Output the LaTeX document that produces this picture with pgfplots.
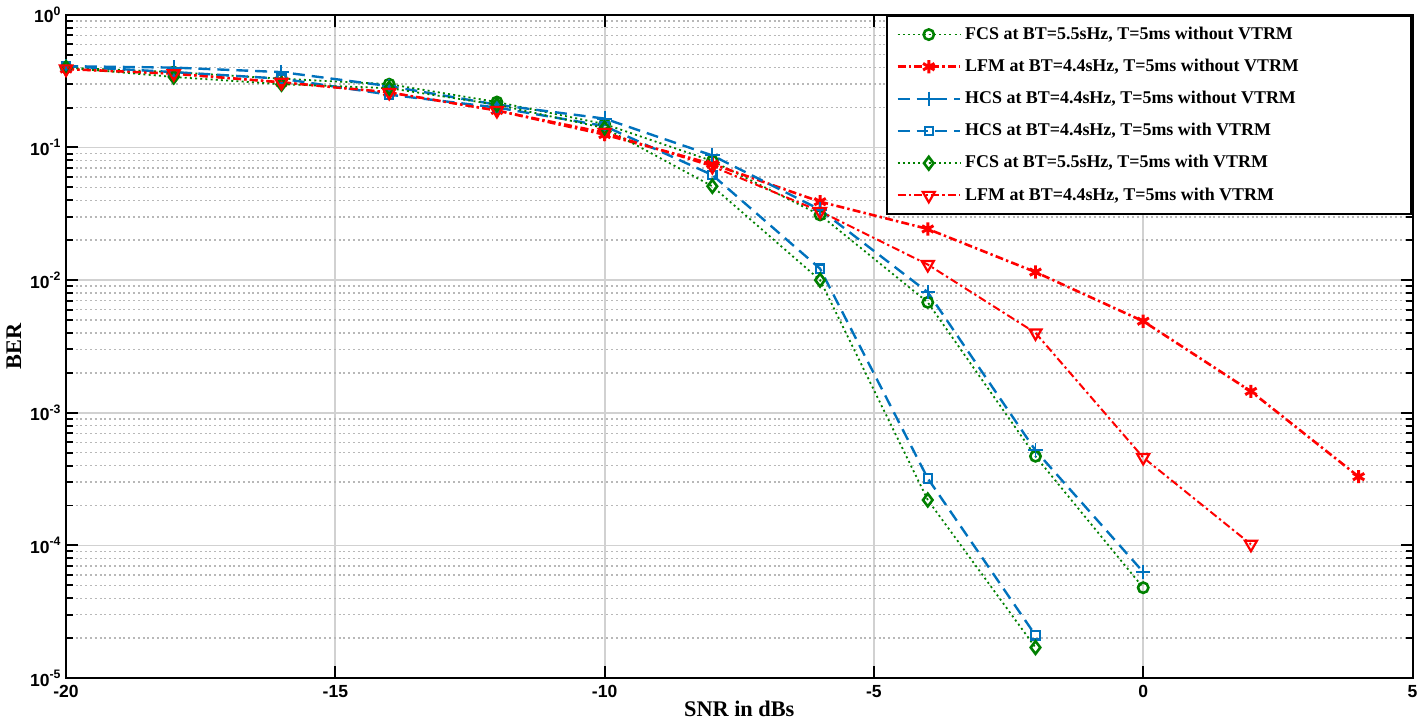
\documentclass[border=0pt]{standalone}
\usepackage{pgfplots}
\pgfplotsset{compat=1.18}
\usepackage{fontspec}
\setmainfont{Liberation Serif}
\newfontfamily\arialfont{Liberation Sans}
\definecolor{mgreen}{rgb}{0,0.5,0}
\definecolor{mblue}{rgb}{0,0.447,0.741}
\definecolor{mred}{rgb}{1,0,0}
\begin{document}
\begin{tikzpicture}
\begin{axis}[
  scale only axis, width=676pt, height=333pt,
  ymode=log, xmin=-20, xmax=5, ymin=1e-5, ymax=1,
  xtick={-20,-15,-10,-5,0,5},
  xticklabels={-20,-15,-10,-5,0,5},
  ytick={1e-5,1e-4,1e-3,1e-2,1e-1,1},
  yticklabels={10\textsuperscript{-5},10\textsuperscript{-4},10\textsuperscript{-3},10\textsuperscript{-2},10\textsuperscript{-1},10\textsuperscript{0}},
  minor ytick={2e-5,3e-5,4e-5,5e-5,6e-5,7e-5,8e-5,9e-5,2e-4,3e-4,4e-4,5e-4,6e-4,7e-4,8e-4,9e-4,2e-3,3e-3,4e-3,5e-3,6e-3,7e-3,8e-3,9e-3,2e-2,3e-2,4e-2,5e-2,6e-2,7e-2,8e-2,9e-2,2e-1,3e-1,4e-1,5e-1,6e-1,7e-1,8e-1,9e-1},
  ticklabel style={font=\arialfont\bfseries\fontsize{8.8}{10}\selectfont},
  yticklabel style={xshift=1.2pt},
  xmajorgrids, ymajorgrids, yminorgrids,
  major grid style={black!18, line width=0.9pt},
  minor grid style={black!28, dash pattern=on 1pt off 1.4pt, line width=0.7pt},
  tick align=inside,
  major tick length=6pt, minor tick length=3.5pt,
  every tick/.style={black, line width=1pt},
  axis line style={line width=1pt},
  xlabel={SNR in dBs}, ylabel={BER},
  label style={font=\bfseries\fontsize{11.2}{13}\selectfont},
  xlabel style={yshift=5pt},
  ylabel style={yshift=-2.5pt},
  legend style={at={(1,1)}, anchor=north east, draw=black, line width=1.1pt,
    font=\bfseries\fontsize{9}{10.5}\selectfont, row sep=4.4pt, inner ysep=3.5pt, inner xsep=4.5pt},
  legend cell align=left,
  legend image code/.code={\draw[mark repeat=2,mark phase=2] plot coordinates {(0cm,0cm)(0.55cm,0cm)(1.1cm,0cm)};},
]
% FCS without VTRM
\addplot[mgreen, line width=0.9pt, dash pattern=on 1pt off 1.6pt, mark=o, mark size=2.6pt, mark options={solid, line width=1.3pt}]
coordinates {(-20,0.40)(-18,0.37)(-16,0.33)(-14,0.30)(-12,0.22)(-10,0.15)(-8,0.079)(-6,0.031)(-4,0.0068)(-2,4.7e-4)(0,4.8e-5)};
\addlegendentry{FCS at BT=5.5sHz, T=5ms without VTRM}
% LFM without VTRM
\addplot[mred, line width=1.3pt, dash pattern=on 4pt off 1.6pt on 1.2pt off 1.6pt, mark=asterisk, mark size=3.3pt, mark options={solid, line width=1.5pt}]
coordinates {(-20,0.39)(-18,0.36)(-16,0.31)(-14,0.26)(-12,0.19)(-10,0.125)(-8,0.075)(-6,0.039)(-4,0.0243)(-2,0.0115)(0,0.0049)(2,0.00145)(4,3.3e-4)};
\addlegendentry{LFM at BT=4.4sHz, T=5ms without VTRM\hspace*{50pt}\mbox{}}
% HCS without VTRM
\addplot[mblue, line width=1.2pt, dash pattern=on 6pt off 3.5pt, mark=+, mark size=3.6pt, mark options={solid, line width=1pt}]
coordinates {(-20,0.41)(-18,0.40)(-16,0.37)(-14,0.29)(-12,0.21)(-10,0.165)(-8,0.087)(-6,0.034)(-4,0.0081)(-2,5.2e-4)(0,6.3e-5)};
\addlegendentry{HCS at BT=4.4sHz, T=5ms without VTRM}
% HCS with VTRM
\addplot[mblue, line width=1.2pt, dash pattern=on 6pt off 3.5pt, mark=square, mark size=2.1pt, mark options={solid, line width=1.1pt}]
coordinates {(-20,0.41)(-18,0.37)(-16,0.33)(-14,0.25)(-12,0.20)(-10,0.145)(-8,0.062)(-6,0.0122)(-4,3.2e-4)(-2,2.1e-5)};
\addlegendentry{HCS at BT=4.4sHz, T=5ms with VTRM}
% FCS with VTRM
\addplot[mgreen, line width=0.9pt, dash pattern=on 1pt off 1.6pt, mark=diamond, mark size=3.2pt, mark options={solid, line width=1.3pt}]
coordinates {(-20,0.40)(-18,0.34)(-16,0.30)(-14,0.28)(-12,0.21)(-10,0.14)(-8,0.051)(-6,0.010)(-4,2.2e-4)(-2,1.7e-5)};
\addlegendentry{FCS at BT=5.5sHz, T=5ms with VTRM}
% LFM with VTRM
\addplot[mred, line width=1pt, dash pattern=on 4pt off 1.6pt on 1.2pt off 1.6pt, mark=triangle, mark size=3.5pt, mark options={solid, rotate=180, line width=1.1pt}]
coordinates {(-20,0.39)(-18,0.36)(-16,0.31)(-14,0.26)(-12,0.19)(-10,0.13)(-8,0.072)(-6,0.033)(-4,0.0131)(-2,0.0040)(0,4.6e-4)(2,1.02e-4)};
\addlegendentry{LFM at BT=4.4sHz, T=5ms with VTRM}
\end{axis}
\end{tikzpicture}
\end{document}
